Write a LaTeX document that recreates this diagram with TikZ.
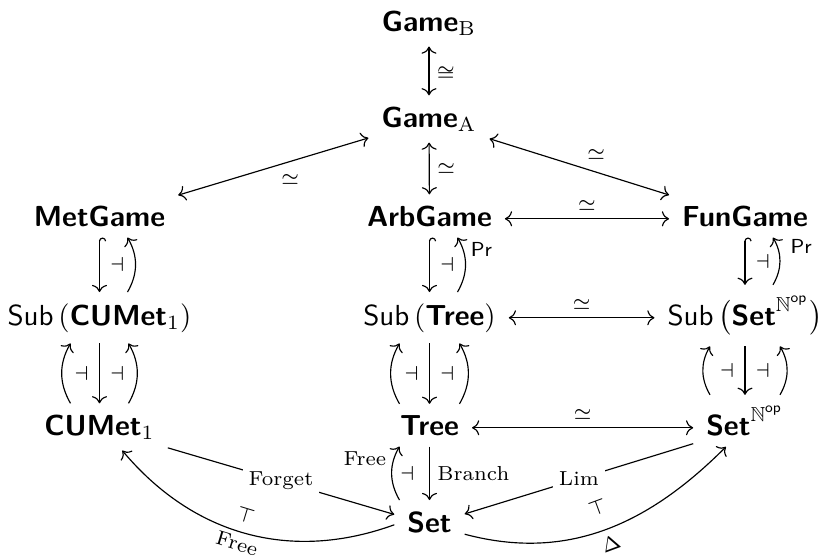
\documentclass[tikz,border=0pt]{standalone}
\usepackage{amsmath,amssymb}
\usetikzlibrary{cd,arrows.meta,calc}
\begin{document}
\begin{tikzpicture}[x=0.345pt,y=-0.345pt,
  >={Computer Modern Rightarrow},
  line width=0.4pt,
  obj/.style={shape=asymmetrical rectangle, inner xsep=1ex, inner ysep=0.85ex, anchor=base},
  lab/.style={font=\scriptsize, inner sep=2.5pt},
  adj/.style={font=\scriptsize, inner sep=3.5pt},
  desc/.style={font=\scriptsize, fill=white, inner sep=2pt},
  hk/.style={{Hooks[right]}->},
]
\useasboundingbox (0,0) rectangle (823,559);
% objects
\node[obj] (gb) at (429,31) {$\textsf{\textbf{Game}}_{\mathrm{B}}$};
\node[obj] (ga) at (429,127) {$\textsf{\textbf{Game}}_{\mathrm{A}}$};
\node[obj] (met) at (99.5,226) {\textsf{\textbf{MetGame}}};
\node[obj] (arb) at (429.5,226) {\textsf{\textbf{ArbGame}}};
\node[obj] (fun) at (745,226) {\textsf{\textbf{FunGame}}};
\node[obj] (subc) at (99.5,325) {$\textsf{Sub}\left(\textsf{\textbf{CUMet}}_1\right)$};
\node[obj] (subt) at (429.5,325) {$\textsf{Sub}\left(\textsf{\textbf{Tree}}\right)$};
\node[obj] (subs) at (745,325) {$\textsf{Sub}\,\bigl(\textsf{\textbf{Set}}^{\mathbb{N}^{\textsf{op}}}\bigr)$};
\node[obj] (cum) at (99.5,435) {$\textsf{\textbf{CUMet}}_1$};
\node[obj] (tree) at (429.5,435) {\textsf{\textbf{Tree}}};
\node[obj] (setn) at (745,435) {$\textsf{\textbf{Set}}^{\mathbb{N}^{\textsf{op}}}$};
\node[obj] (set) at (429.5,532) {\textsf{\textbf{Set}}};

% equivalences
\draw[<->] (gb) -- (ga) node[pos=0.55, right, lab] {$\cong$};
\draw[<->] (ga) -- (arb) node[midway, right, lab] {$\simeq$};
\draw[<->] (met) -- (ga) node[midway, anchor=north west, lab] {$\simeq$};
\draw[<->] (ga) -- (fun) node[midway, anchor=south west, lab] {$\simeq$};
\draw[<->] (arb) -- (fun) node[midway, above, lab] {$\simeq$};
\draw[<->] (subt) -- (subs) node[midway, above, lab] {$\simeq$};
\draw[<->] (tree) -- (setn) node[midway, above, lab] {$\simeq$};

% row 3 -> row 4
\draw[hk] (met) -- (subc) node[midway, right, adj] {$\dashv$};
\draw[->] ($(subc.north)+(28,0)$) to[bend right=30] ($(met.south)+(28,0)$);
\draw[hk] (arb) -- (subt) node[midway, right, adj] {$\dashv$};
\draw[->] ($(subt.north)+(28,0)$) to[bend right=30] node[pos=0.78, right, lab] {\textsf{Pr}} ($(arb.south)+(28,0)$);
\draw[hk] (fun) -- (subs) node[midway, right, adj] {$\dashv$};
\draw[->] ($(subs.north)+(28,0)$) to[bend right=30] node[pos=0.82, right, lab, xshift=2pt] {\textsf{Pr}} ($(fun.south)+(28,0)$);

% row 4 -> row 5
\draw[->] (subc) -- (cum) node[midway, left, adj] {$\dashv$} node[midway, right, adj] {$\dashv$};
\draw[->] ($(cum.north)+(-29,0)$) to[bend left=30] ($(subc.south)+(-29,0)$);
\draw[->] ($(cum.north)+(29,0)$) to[bend right=30] ($(subc.south)+(29,0)$);
\draw[->] (subt) -- (tree) node[midway, left, adj] {$\dashv$} node[midway, right, adj] {$\dashv$};
\draw[->] ($(tree.north)+(-30,0)$) to[bend left=30] ($(subt.south)+(-30,0)$);
\draw[->] ($(tree.north)+(30,0)$) to[bend right=30] ($(subt.south)+(30,0)$);
\draw[->] (subs) -- (setn) node[midway, left, adj] {$\dashv$} node[midway, right, adj] {$\dashv$};
\draw[->] ($(setn.north)+(-35,0)$) to[bend left=30] ($(subs.south)+(-35,0)$);
\draw[->] ($(setn.north)+(35,0)$) to[bend right=30] ($(subs.south)+(35,0)$);

% bottom
\draw[->] (tree) -- (set) node[midway, right, lab] {Branch} node[midway, left, inner sep=5pt, font=\scriptsize] {$\dashv$};
\draw[->] ($(set.north)+(-30,0)$) to[bend left=30] node[pos=0.78, left, lab] {Free} ($(tree.south)+(-30,0)$);
\draw[->] (cum) -- (set) node[midway, desc] {Forget};
\draw[->] (set.west) to[out=200, in=-50] node[pos=0.52, below, sloped, lab, inner sep=1.5pt] {Free} node[pos=0.52, above=1pt, sloped, lab] {$\top$} (cum.-45);
\draw[->] (setn) -- (set) node[midway, desc] {Lim};
\draw[->] (set.-15) to[out=-15, in=-135] node[pos=0.5, below, sloped, lab] {$\Delta$} node[pos=0.5, above=3pt, sloped, lab] {$\top$} (setn.-135);
\end{tikzpicture}
\end{document}
